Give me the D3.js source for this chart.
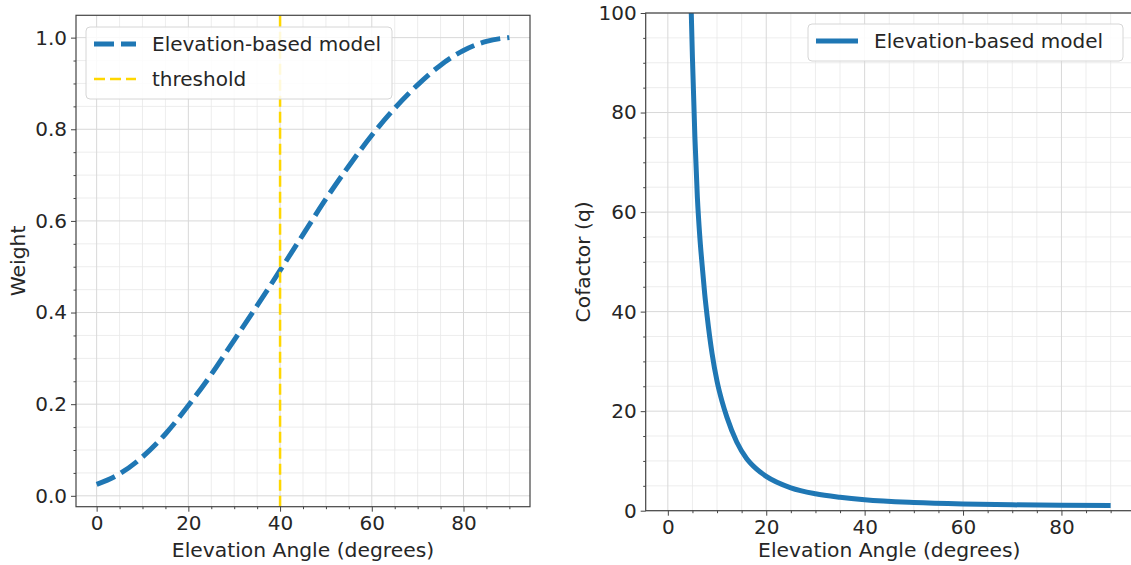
<!DOCTYPE html>
<html>
<head>
<meta charset="utf-8">
<script src="https://cdn.jsdelivr.net/npm/d3@7"></script>
<style>
  body { margin: 0; background: #fff; }
  text { font-family: "DejaVu Sans", sans-serif; fill: #262626; }
</style>
</head>
<body>
<div id="chart"></div>
<script>
// elevation angles (degrees) and weights for the left panel
const weightAngles = [0, 5, 10, 15, 20, 25, 30, 35, 40, 45, 50, 55, 60, 65, 70, 75, 80, 85, 90];
const weightValues = [0.025, 0.048, 0.085, 0.135, 0.197, 0.265, 0.34, 0.415, 0.492, 0.57, 0.648, 0.72, 0.787, 0.846, 0.897, 0.94, 0.972, 0.992, 1.0];
const threshold = 40;

// elevation angles and cofactor q for the right panel
const cofactorAngles = [4.5, 5, 5.5, 6, 6.5, 7, 7.5, 8, 9, 10, 11, 12, 14, 16, 18, 20, 25, 30, 35, 40, 50, 60, 70, 80, 90];
const cofactorValues = [110, 91, 75, 63, 55, 49, 43.5, 39, 31.5, 26, 22, 18.8, 13.8, 10.5, 8.4, 6.9, 4.6, 3.4, 2.7, 2.2, 1.65, 1.35, 1.18, 1.08, 1.05];

const xTicks = [0, 20, 40, 60, 80];
const weightTicks = [0, 0.2, 0.4, 0.6, 0.8, 1.0];
const cofactorTicks = [0, 20, 40, 60, 80, 100];

const width = 1131;
const height = 565;
const blue = "#1f77b4";
const gold = "#ffd700";
const blueDash = "20,7";
const goldDash = "11,5";

const svg = d3.select("#chart").append("svg")
  .attr("width", width)
  .attr("height", height);

// draw one panel: grid, line(s), axes, labels
function panel(opts) {
  const g = svg.append("g");
  const x = opts.x, y = opts.y;
  const [x0, x1] = x.range();
  const [y0, y1] = y.range();

  g.append("clipPath").attr("id", opts.id)
    .append("rect").attr("x", x0).attr("y", y1).attr("width", x1 - x0).attr("height", y0 - y1);

  // minor grid
  const grid = g.append("g");
  grid.selectAll(".mx").data(opts.xMinor).enter().append("line")
    .attr("x1", d => x(d)).attr("x2", d => x(d)).attr("y1", y0).attr("y2", y1)
    .attr("stroke", "#e8e8e8").attr("stroke-width", 0.8);
  grid.selectAll(".my").data(opts.yMinor).enter().append("line")
    .attr("y1", d => y(d)).attr("y2", d => y(d)).attr("x1", x0).attr("x2", x1)
    .attr("stroke", "#e8e8e8").attr("stroke-width", 0.8);
  // major grid
  grid.selectAll(".gx").data(xTicks).enter().append("line")
    .attr("x1", d => x(d)).attr("x2", d => x(d)).attr("y1", y0).attr("y2", y1)
    .attr("stroke", "#d8d8d8").attr("stroke-width", 1);
  grid.selectAll(".gy").data(opts.yTicks).enter().append("line")
    .attr("y1", d => y(d)).attr("y2", d => y(d)).attr("x1", x0).attr("x2", x1)
    .attr("stroke", "#d8d8d8").attr("stroke-width", 1);

  const plot = g.append("g").attr("clip-path", `url(#${opts.id})`);
  opts.draw(plot);

  // frame
  g.append("rect").attr("x", x0).attr("y", y1).attr("width", x1 - x0).attr("height", y0 - y1)
    .attr("fill", "none").attr("stroke", "#444").attr("stroke-width", 1.2);

  // axes
  g.append("g").attr("transform", `translate(0,${y0})`)
    .call(d3.axisBottom(x).tickValues(xTicks).tickFormat(d3.format("d")).tickSize(5).tickPadding(4));
  g.append("g").attr("transform", `translate(0,${y0})`)
    .call(d3.axisBottom(x).tickValues(opts.xMinor).tickFormat("").tickSize(2.5));
  g.append("g").attr("transform", `translate(${x0},0)`)
    .call(d3.axisLeft(y).tickValues(opts.yTicks).tickFormat(opts.yFormat).tickSize(5).tickPadding(4));
  g.append("g").attr("transform", `translate(${x0},0)`)
    .call(d3.axisLeft(y).tickValues(opts.yMinor).tickFormat("").tickSize(2.5));
  g.selectAll(".domain").remove();
  g.selectAll(".tick line").attr("stroke", "#444");
  g.selectAll(".tick text").style("font-size", "20px").attr("fill", "#262626");

  g.append("text").attr("x", (x0 + Math.min(x1, width + 2)) / 2).attr("y", 557)
    .attr("text-anchor", "middle").style("font-size", "20.3px").text("Elevation Angle (degrees)");
  g.append("text").attr("transform", `translate(${opts.yLabelX},${(y0 + y1) / 2}) rotate(-90)`)
    .attr("text-anchor", "middle").attr("dy", "0.35em").style("font-size", "20.3px").text(opts.yLabel);
  return g;
}

function legend(g, x, y, w, items) {
  const rowH = 35;
  const box = g.append("g").attr("transform", `translate(${x},${y})`);
  box.append("rect").attr("width", w).attr("height", items.length * rowH + 2)
    .attr("rx", 4).attr("fill", "#fff").attr("fill-opacity", 0.85)
    .attr("stroke", "#d6d6d6").attr("stroke-width", 1);
  items.forEach((it, i) => {
    const cy = 17 + i * rowH;
    box.append("line").attr("x1", 8).attr("x2", 50).attr("y1", cy).attr("y2", cy)
      .attr("stroke", it.color).attr("stroke-width", it.width)
      .attr("stroke-dasharray", it.dash || null);
    box.append("text").attr("x", 66).attr("y", cy).attr("dy", "0.35em")
      .style("font-size", "20px").text(it.label);
  });
}

// left panel: weight
const xL = d3.scaleLinear().domain([-4.5, 94.5]).range([76, 530]);
const yL = d3.scaleLinear().domain([-0.02375, 1.04875]).range([506.7, 15.3]);
const range5 = d3.range(0, 95, 5).filter(d => d % 20 !== 0);
const left = panel({
  id: "clipL", x: xL, y: yL, yTicks: weightTicks,
  xMinor: range5, yMinor: d3.range(0, 1.04, 0.05).filter(d => Math.round(d * 100) % 20 !== 0),
  yFormat: d3.format(".1f"), yLabel: "Weight", yLabelX: 18,
  draw: plot => {
    plot.append("path").datum(weightAngles.map((a, i) => [a, weightValues[i]]))
      .attr("d", d3.line().x(d => xL(d[0])).y(d => yL(d[1])).curve(d3.curveMonotoneX))
      .attr("fill", "none").attr("stroke", blue).attr("stroke-width", 5)
      .attr("stroke-dasharray", blueDash);
    plot.append("line").attr("x1", xL(threshold)).attr("x2", xL(threshold))
      .attr("y1", yL.range()[0]).attr("y2", yL.range()[1])
      .attr("stroke", gold).attr("stroke-width", 2.5).attr("stroke-dasharray", goldDash);
  }
});
legend(left, 86, 27, 306, [
  { label: "Elevation-based model", color: blue, width: 5, dash: blueDash },
  { label: "threshold", color: gold, width: 2.5, dash: goldDash }
]);

// right panel: cofactor
const xR = d3.scaleLinear().domain([-4.5, 94.5]).range([645.7, 645.7 + 99 * 4.92]);
const yR = d3.scaleLinear().domain([0, 100]).range([510.7, 13]);
const right = panel({
  id: "clipR", x: xR, y: yR, yTicks: cofactorTicks,
  xMinor: range5, yMinor: d3.range(5, 100, 5).filter(d => d % 20 !== 0),
  yFormat: d3.format("d"), yLabel: "Cofactor (q)", yLabelX: 583,
  draw: plot => {
    plot.append("path").datum(cofactorAngles.map((a, i) => [a, cofactorValues[i]]))
      .attr("d", d3.line().x(d => xR(d[0])).y(d => yR(d[1])).curve(d3.curveMonotoneX))
      .attr("fill", "none").attr("stroke", blue).attr("stroke-width", 5);
  }
});
legend(right, 808, 24, 315, [
  { label: "Elevation-based model", color: blue, width: 5 }
]);
</script>
</body>
</html>
